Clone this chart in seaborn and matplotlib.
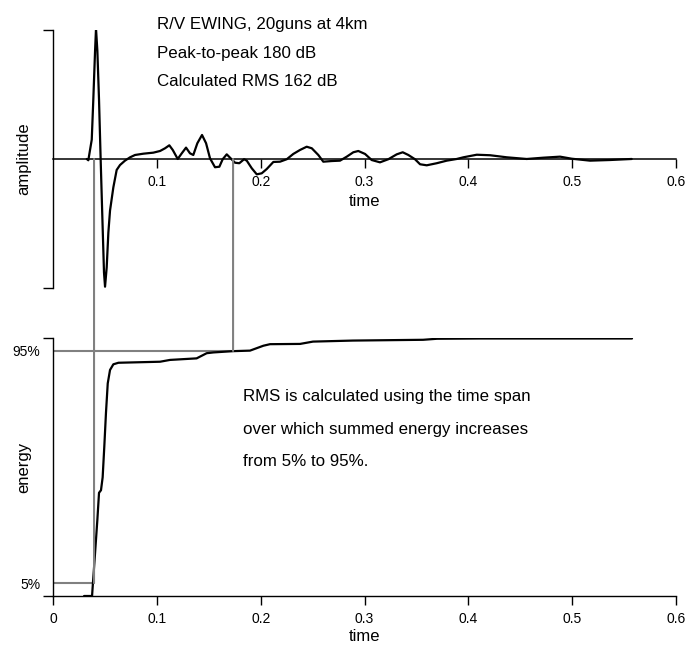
import numpy as np
import pandas as pd
import seaborn as sns
import matplotlib.pyplot as plt
from matplotlib.patches import ConnectionPatch

# airgun pulse (time in s, amplitude normalised to peak)
wave_t = [0.0325, 0.0340, 0.0373, 0.0388, 0.0405, 0.0414, 0.0427, 0.0443, 0.0459,
          0.0475, 0.0491, 0.0501, 0.0517, 0.0533, 0.0549, 0.0581, 0.0613, 0.0645,
          0.0693, 0.0742, 0.0790, 0.0870, 0.0966, 0.1031, 0.1079, 0.1120, 0.1153,
          0.1201, 0.1240, 0.1281, 0.1319, 0.1351, 0.1390, 0.1435, 0.1474, 0.1512,
          0.1560, 0.1602, 0.1634, 0.1673, 0.1711, 0.1753, 0.1794, 0.1840, 0.1866,
          0.1914, 0.1962, 0.2010, 0.2058, 0.2122, 0.2186, 0.2251, 0.2314, 0.2379,
          0.2443, 0.2492, 0.2555, 0.2603, 0.2684, 0.2764, 0.2829, 0.2892, 0.2940,
          0.3005, 0.3069, 0.3149, 0.3229, 0.3310, 0.3368, 0.3422, 0.3486, 0.3535,
          0.3599, 0.3695, 0.3792, 0.3888, 0.3952, 0.4081, 0.4209, 0.4370, 0.4562,
          0.4722, 0.4883, 0.4996, 0.5172, 0.5365, 0.5573]
wave_amp = [0.0, -0.01, 0.15, 0.46, 0.84, 1.01, 0.84, 0.46, -0.01,
            -0.45, -0.88, -0.99, -0.84, -0.57, -0.40, -0.22, -0.085, -0.047,
            -0.013, 0.013, 0.031, 0.041, 0.049, 0.062, 0.083, 0.106, 0.070,
            0.0, 0.044, 0.088, 0.044, 0.031, 0.122, 0.186, 0.122, 0.005,
            -0.064, -0.060, -0.002, 0.036, 0.005, -0.029, -0.033, -0.002, -0.013,
            -0.072, -0.119, -0.111, -0.078, -0.023, -0.021, -0.002, 0.039, 0.070,
            0.095, 0.083, 0.031, -0.021, -0.016, -0.013, 0.018, 0.052, 0.062,
            0.039, -0.008, -0.026, -0.002, 0.036, 0.052, 0.031, -0.002, -0.041,
            -0.049, -0.033, -0.013, 0.0, 0.013, 0.033, 0.029, 0.013, 0.0,
            0.01, 0.018, 0.002, -0.013, -0.008, 0.0]

# summed energy (fraction of total)
energy_t = [0.0299, 0.0376, 0.0382, 0.0405, 0.0427, 0.0443, 0.0462, 0.0478, 0.0494,
            0.0510, 0.0527, 0.0549, 0.0581, 0.0630, 0.0934, 0.1031, 0.1127, 0.1383,
            0.1480, 0.1544, 0.1734, 0.1897, 0.2026, 0.2090, 0.2379, 0.2504, 0.2889,
            0.3564, 0.3698, 0.4112, 0.5576]
energy_frac = [0.0, 0.0, 0.036, 0.167, 0.295, 0.40, 0.41, 0.46, 0.58,
               0.71, 0.824, 0.876, 0.898, 0.904, 0.907, 0.908, 0.915, 0.921,
               0.941, 0.944, 0.949, 0.951, 0.97, 0.976, 0.977, 0.986, 0.990,
               0.993, 0.997, 0.998, 0.998]

t_5, t_95 = 0.0395, 0.1734
lvl_5, lvl_95 = 0.05, 0.95

time_ticks = [0, 0.1, 0.2, 0.3, 0.4, 0.5, 0.6]
time_labels = ["0", "0.1", "0.2", "0.3", "0.4", "0.5", "0.6"]
head_lines = ["R/V EWING, 20guns at 4km", "Peak-to-peak 180 dB", "Calculated RMS 162 dB"]
note_lines = ["RMS is calculated using the time span",
              "over which summed energy increases",
              "from 5% to 95%."]

sns.set_style("white", rc={"text.color": "black", "axes.labelcolor": "black",
                           "axes.edgecolor": "black", "xtick.color": "black",
                           "ytick.color": "black"})
plt.rcParams["font.family"] = ["Liberation Sans", "DejaVu Sans"]

fig = plt.figure(figsize=(6.85, 6.46), dpi=100)
ax1 = fig.add_axes([0.0774, 0.5542, 0.9095, 0.3994])
ax2 = fig.add_axes([0.0774, 0.0774, 0.9095, 0.3994])
for ax in (ax1, ax2):
    ax.patch.set_visible(False)

# --- amplitude panel
sns.lineplot(x=wave_t, y=wave_amp, ax=ax1, color="black", lw=1.6, estimator=None, sort=False)
ax1.set_xlim(0, 0.6)
ax1.set_ylim(-1, 1)
for s in ["top", "right"]:
    ax1.spines[s].set_visible(False)
ax1.spines["bottom"].set_position(("data", 0))
ax1.spines["bottom"].set_linewidth(1.1)
ax1.spines["left"].set_linewidth(1.0)
ax1.set_yticks([-1, 1])
ax1.set_yticklabels([])
ax1.set_xticks(time_ticks[1:])
ax1.set_xticklabels(time_labels[1:])
ax1.tick_params(axis="y", direction="out", length=7, width=1, left=True)
ax1.tick_params(axis="x", direction="out", length=6.5, width=1, labelsize=10, pad=5, bottom=True)
ax1.set_xlabel("time", fontsize=12, labelpad=3.5)
ax1.set_ylabel("amplitude", fontsize=12)
ax1.yaxis.set_label_coords(-0.035, 0.5)
for i, line in enumerate(head_lines):
    ax1.text(0.167, 1.003 - i * 0.1105, line, transform=ax1.transAxes,
             fontsize=12.2, va="baseline", ha="left")

# --- energy panel
sns.lineplot(x=energy_t, y=energy_frac, ax=ax2, color="black", lw=1.6, estimator=None, sort=False)
ax2.set_xlim(0, 0.6)
ax2.set_ylim(0, 1)
for s in ["top", "right"]:
    ax2.spines[s].set_visible(False)
ax2.spines["bottom"].set_linewidth(1.0)
ax2.spines["left"].set_linewidth(1.0)
ax2.set_xticks(time_ticks)
ax2.set_xticklabels(time_labels)
ax2.set_yticks([0, 1])
ax2.set_yticklabels([])
ax2.set_yticks([lvl_5, lvl_95], minor=True)
ax2.set_yticklabels(["5%", "95%"], minor=True)
ax2.tick_params(axis="y", which="major", direction="out", length=7, width=1, left=True)
ax2.tick_params(axis="y", which="minor", length=0, labelsize=10, pad=9, left=True)
ax2.tick_params(axis="x", direction="out", length=6.5, width=1, labelsize=10, pad=5, bottom=True)
ax2.set_xlabel("time", fontsize=12, labelpad=2.5)
ax2.set_ylabel("energy", fontsize=12)
ax2.yaxis.set_label_coords(-0.035, 0.5)
for i, line in enumerate(note_lines):
    ax2.text(0.305, 0.754 - i * 0.125, line, transform=ax2.transAxes,
             fontsize=12.2, va="baseline", ha="left")

# 5% / 95% markers
gray = "#808080"
for t, lvl in [(t_5, lvl_5), (t_95, lvl_95)]:
    ax2.plot([0, t], [lvl, lvl], color=gray, lw=1.5, zorder=1)
    con = ConnectionPatch(xyA=(t, 0), coordsA=ax1.transData,
                          xyB=(t, lvl), coordsB=ax2.transData,
                          color=gray, lw=1.5, zorder=0.5)
    fig.add_artist(con)

fig.savefig("out.png", dpi=100)
